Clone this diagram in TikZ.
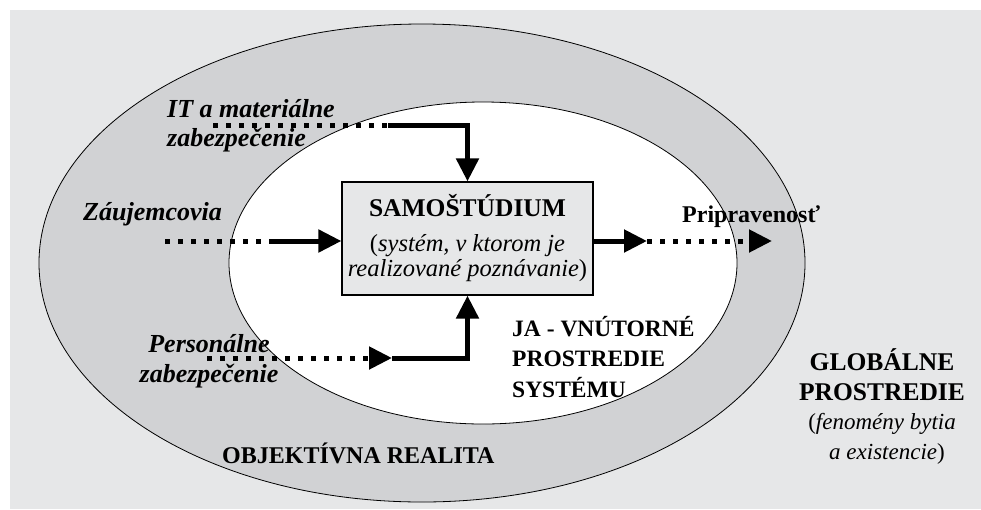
\documentclass[tikz,border=0pt]{standalone}
\usepackage{fontspec}
\setmainfont{Liberation Serif}
\usepackage{tikz}
\usetikzlibrary{arrows.meta,calc}
\definecolor{bggray}{HTML}{E6E7E8}
\definecolor{ringgray}{HTML}{D1D2D4}

\begin{document}
\begin{tikzpicture}[x=1pt,y=-1pt,
  lab/.style={inner sep=0pt,font=\fontsize{24}{30}\selectfont\bfseries},
  itlab/.style={inner sep=0pt,font=\fontsize{26}{28}\selectfont\bfseries\itshape},
  solidarr/.style={line width=5pt,-{Triangle[length=23pt,width=22pt]}},
  dotline/.style={line width=5pt,dash pattern=on 5pt off 8pt},
  dotarr/.style={dotline,-{Triangle[length=23pt,width=22pt]}}]
\useasboundingbox (0,0) rectangle (981,509);
\fill[bggray] (10,10) rectangle (981,509);
\draw[fill=ringgray,line width=0.8pt] (422,263) ellipse [x radius=383pt,y radius=239pt];
\draw[fill=white,line width=0.8pt] (483,263) ellipse [x radius=254pt,y radius=161pt];
\node[draw,fill=bggray,line width=1.2pt,minimum width=251pt,minimum height=113pt,
  inner sep=0pt,align=center,font=\fontsize{24.5}{25}\selectfont] (samo) at (467.5,238.5)
  {{\fontsize{25.5}{25}\selectfont\bfseries SAMOŠTÚDIUM}\\[10pt](\textit{systém, v ktorom je}\\\textit{realizované poznávanie})};
\node[itlab,anchor=base west,align=left,font=\fontsize{26}{29}\selectfont\bfseries\itshape] (itmat) at (167,146)
  {IT a materiálne\\zabezpečenie};
\node[itlab,anchor=base west] (zauj) at (83,220) {Záujemcovia};
\node[itlab,anchor=base,align=center,font=\fontsize{26}{30}\selectfont\bfseries\itshape] (pers) at (209,382)
  {Personálne\\zabezpečenie};
\node[lab,anchor=base west] (prip) at (682,222) {Pripravenosť};
\node[lab,anchor=base west,align=left,font=\fontsize{23.5}{30.5}\selectfont\bfseries] (ja) at (512,397)
  {JA - VNÚTORNÉ\\PROSTREDIE\\SYSTÉMU};
\node[lab,anchor=base,align=center,font=\fontsize{25.5}{29.5}\selectfont\bfseries] (glob) at (882,459)
  {GLOBÁLNE\\PROSTREDIE\\\mdseries\fontsize{23}{29.5}\selectfont(\textit{fenomény bytia}\\
   \mdseries\fontsize{23}{29.5}\selectfont\hspace*{10pt}\textit{a existencie})};
\node[lab,anchor=base west] (objr) at (222,463) {OBJEKTÍVNA REALITA};
\coordinate (itd) at (213,125);
\coordinate (its) at (388,125);
\coordinate (zd) at (165,241);
\coordinate (zs) at (270,241);
\coordinate (pd) at (207,358);
\coordinate (ps) at (392,358);
\coordinate (ro) at (647,241);
\coordinate (re) at (772,241);
\draw[dotline] (itd) -- (its);
\draw[solidarr] (its) -| (samo.north);
\draw[dotline] (zd) -- (zs);
\draw[solidarr] (zs) -- (zs -| samo.west);
\draw[dotarr] (pd) -- (ps);
\draw[solidarr] (ps) -| (samo.south);
\draw[solidarr] (samo.east |- ro) -- (ro);
\draw[dotarr] (ro) -- (re);
\end{tikzpicture}
\end{document}
